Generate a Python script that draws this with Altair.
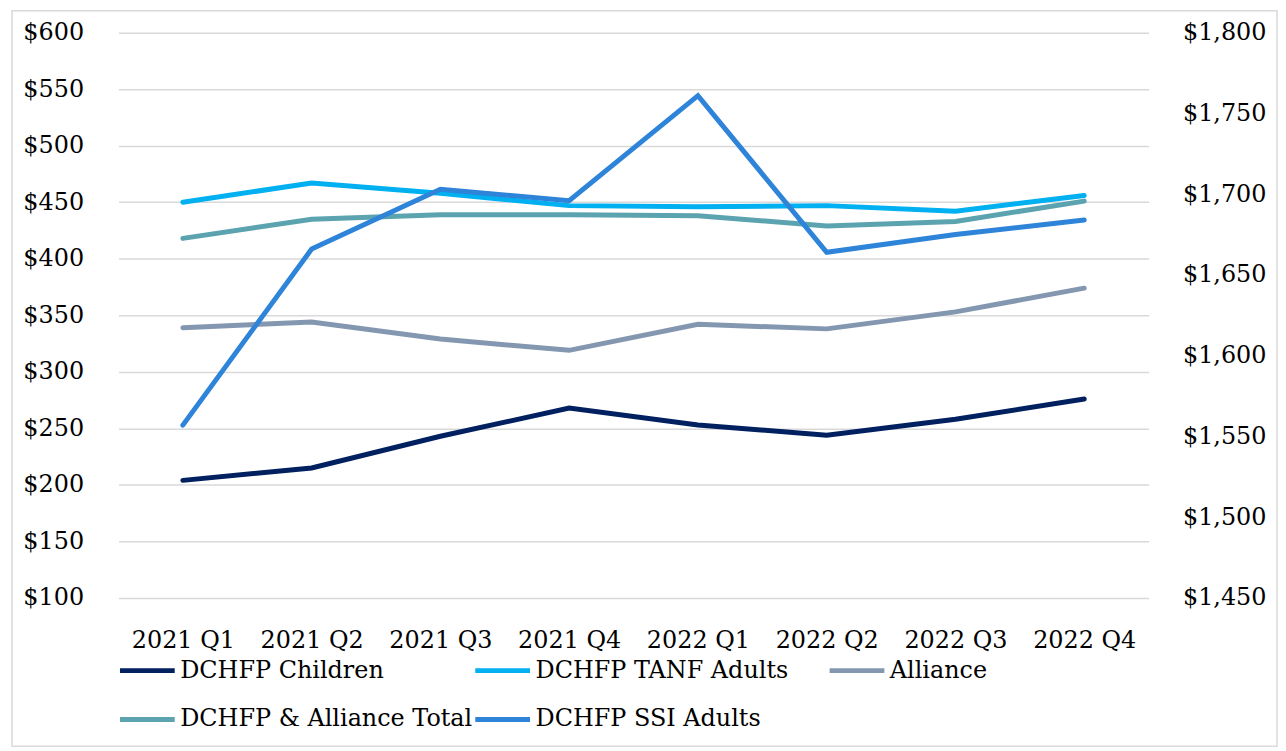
import altair as alt
import pandas as pd

quarters = ["2021 Q1", "2021 Q2", "2021 Q3", "2021 Q4", "2022 Q1", "2022 Q2", "2022 Q3", "2022 Q4"]
children = [204, 215, 243, 268, 253, 244, 258, 276]
tanf = [450, 467, 458, 447, 446, 447, 442, 456]
alliance = [339, 344, 329, 319, 342, 338, 353, 374]
total = [418, 435, 439, 439, 438, 429, 433, 451]
ssi = [1557, 1666, 1703, 1696, 1761, 1664, 1675, 1684]

names_a = ["DCHFP Children", "DCHFP TANF Adults", "DCHFP & Alliance Total", "DCHFP SSI Adults"]
colors_a = ["#002060", "#00B0F0", "#5BA3AE", "#2E84D9"]
name_b = "Alliance"
color_b = "#8497B0"

FONT = "DejaVu Serif"

rows = []
for name, vals in [(names_a[0], children), (names_a[1], tanf), (names_a[2], total)]:
    for q, v in zip(quarters, vals):
        rows.append({"quarter": q, "series": name, "value": v})
df_a = pd.DataFrame(rows)
df_b = pd.DataFrame({"quarter": quarters, "series": name_b, "value": alliance})
df_s = pd.DataFrame({"quarter": quarters, "series": names_a[3], "value": ssi})

x_enc = alt.X("quarter:O", sort=quarters,
              scale=alt.Scale(type="point", padding=0.5),
              axis=alt.Axis(title=None, labelAngle=0, ticks=False, domain=False,
                            labelPadding=31, labelFont=FONT, labelFontSize=24,
                            labelColor="#000000", grid=False))

left_axis = alt.Axis(title=None, values=list(range(100, 601, 50)), format="$,.0f",
                     ticks=False, domain=False, labelPadding=35, labelFont=FONT,
                     labelFontSize=24, labelColor="#000000", grid=True,
                     gridColor="#d9d9d9", gridWidth=1.5)
left_scale = alt.Scale(domain=[100, 600], nice=False, zero=False)

line_a = alt.Chart(df_a).mark_line(strokeWidth=5, strokeCap="round").encode(
    x=x_enc,
    y=alt.Y("value:Q", scale=left_scale, axis=left_axis),
    color=alt.Color("series:N",
                    scale=alt.Scale(domain=names_a, range=colors_a),
                    legend=alt.Legend(title=None, orient="none", legendX=-1, legendY=611,
                                      direction="horizontal", columns=2,
                                      columnPadding=-13, rowPadding=7,
                                      symbolType="stroke", symbolSize=3025,
                                      symbolStrokeWidth=5, labelOffset=3,
                                      labelFont=FONT, labelFontSize=24,
                                      labelColor="#000000", labelLimit=400)),
    detail="series:N",
)

line_b = alt.Chart(df_b).mark_line(strokeWidth=5, strokeCap="round").encode(
    x=x_enc,
    y=alt.Y("value:Q", scale=left_scale, axis=left_axis),
    color=alt.Color("series:N",
                    scale=alt.Scale(domain=[name_b], range=[color_b]),
                    legend=alt.Legend(title=None, orient="none", legendX=712, legendY=611,
                                      direction="horizontal",
                                      symbolType="stroke", symbolSize=3025,
                                      symbolStrokeWidth=5, labelOffset=3,
                                      labelFont=FONT, labelFontSize=24,
                                      labelColor="#000000", labelLimit=400)),
)

line_s = alt.Chart(df_s).mark_line(strokeWidth=5, strokeCap="round", color=colors_a[3]).encode(
    x=x_enc,
    y=alt.Y("value:Q", scale=alt.Scale(domain=[1450, 1800], nice=False, zero=False),
            axis=alt.Axis(title=None, orient="right", values=list(range(1450, 1801, 50)),
                          format="$,.0f", ticks=False, domain=False, labelPadding=34,
                          labelFont=FONT, labelFontSize=24, labelColor="#000000",
                          grid=False)),
)

border = alt.Chart(pd.DataFrame({"a": [0]})).mark_rect(
    fill="transparent", stroke="#d9d9d9", strokeWidth=1.5
).encode(
    x=alt.value(-107), x2=alt.value(1164), y=alt.value(-22), y2=alt.value(717)
)

inner = alt.layer(line_a, line_b).resolve_scale(color="independent")
chart = alt.layer(border, inner, line_s).resolve_scale(y="independent").properties(
    width=1035, height=568,
    padding={"left": 3, "top": 0, "right": 0, "bottom": 0},
    view=alt.ViewBackground(stroke=None, strokeWidth=0),
).configure_view(strokeWidth=0, stroke=None).configure_axis(
    domain=False, ticks=False
).configure_axisX(grid=False).configure(background="white")

chart.save("out.html", embed_options={"renderer": "svg", "actions": False})
